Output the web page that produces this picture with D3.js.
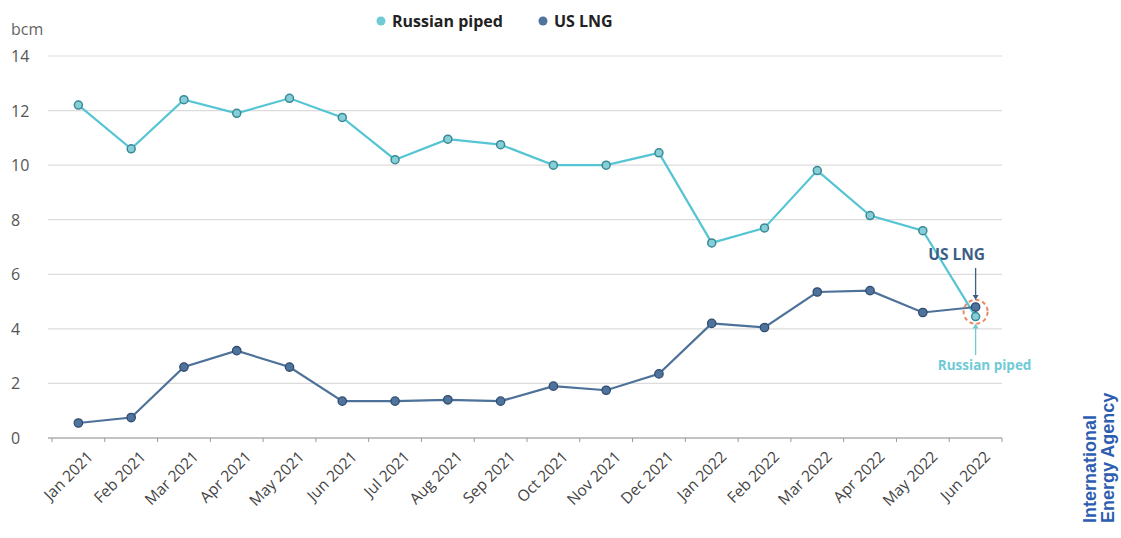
<!DOCTYPE html>
<html>
<head>
<meta charset="utf-8">
<script src="https://cdn.jsdelivr.net/npm/d3@7/dist/d3.min.js"></script>
<style>
  body { margin: 0; background: #fff; }
  svg text { font-family: "Open Sans", "DejaVu Sans", sans-serif; }
</style>
</head>
<body>
<svg id="chart" width="1121" height="538"></svg>
<script>
// monthly imports, bcm
var months = ["Jan 2021","Feb 2021","Mar 2021","Apr 2021","May 2021","Jun 2021","Jul 2021","Aug 2021","Sep 2021","Oct 2021","Nov 2021","Dec 2021","Jan 2022","Feb 2022","Mar 2022","Apr 2022","May 2022","Jun 2022"];
var russianPiped = [12.2,10.6,12.4,11.9,12.45,11.75,10.2,10.95,10.75,10.0,10.0,10.45,7.15,7.7,9.8,8.15,7.6,4.45];
var usLng = [0.55,0.75,2.6,3.2,2.6,1.35,1.35,1.4,1.35,1.9,1.75,2.35,4.2,4.05,5.35,5.4,4.6,4.8];
var yTicks = [0,2,4,6,8,10,12,14];

var svg = d3.select("#chart");
// plot box (note: "top" clashes with window.top, so prefixed)
var pLeft = 52, pRight = 1002, pTop = 56, pBottom = 438;

var x = d3.scaleBand().domain(months).range([pLeft, pRight]);
var y = d3.scaleLinear().domain([0,14]).range([pBottom, pTop]);

// gridlines
svg.append("g")
  .selectAll("line")
  .data(yTicks.filter(function(d){ return d > 0; }))
  .enter().append("line")
  .attr("x1", pLeft - 4).attr("x2", pRight)
  .attr("y1", function(d){ return y(d); })
  .attr("y2", function(d){ return y(d); })
  .attr("stroke", "#dcdcdc").attr("stroke-width", 1.2);

// y labels
svg.append("g")
  .selectAll("text")
  .data(yTicks)
  .enter().append("text")
  .attr("x", 11)
  .attr("y", function(d){ return y(d) + 6; })
  .attr("fill", "#555")
  .attr("font-size", 16)
  .text(function(d){ return d; });

svg.append("text").attr("x", 11).attr("y", 35)
  .attr("fill", "#666").attr("font-size", 16).text("bcm");

// x axis
var xAxis = svg.append("g")
  .attr("transform", "translate(0," + pBottom + ")");
xAxis.append("line").attr("x1", pLeft - 4).attr("x2", pRight)
  .attr("stroke", "#888").attr("stroke-width", 1.2);
var edges = months.map(function(m){ return x(m); }).concat([pRight]);
xAxis.selectAll("line.tick").data(edges).enter().append("line")
  .attr("class", "tick")
  .attr("x1", function(d){ return d; }).attr("x2", function(d){ return d; })
  .attr("y1", 0).attr("y2", 4)
  .attr("stroke", "#999");
xAxis.selectAll("text").data(months).enter().append("text")
  .attr("transform", function(m){
    return "translate(" + (x(m) + x.bandwidth()/2 + 8) + ",12) rotate(-45)";
  })
  .attr("text-anchor", "end")
  .attr("dy", "0.7em")
  .attr("fill", "#444")
  .attr("font-size", 15.5)
  .text(function(m){ return m; });

function cx(i){ return x(months[i]) + x.bandwidth()/2; }

var line = d3.line()
  .x(function(d, i){ return cx(i); })
  .y(function(d){ return y(d); });

// russian piped
svg.append("path").datum(russianPiped)
  .attr("d", line).attr("fill", "none")
  .attr("stroke", "#55c5d4").attr("stroke-width", 2.2);
svg.append("g").selectAll("circle").data(russianPiped).enter().append("circle")
  .attr("cx", function(d, i){ return cx(i); })
  .attr("cy", function(d){ return y(d); })
  .attr("r", 4)
  .attr("fill", "#86cfd8").attr("stroke", "#3b8995").attr("stroke-width", 1.5);

// us lng
svg.append("path").datum(usLng)
  .attr("d", line).attr("fill", "none")
  .attr("stroke", "#4d7199").attr("stroke-width", 2.2);
svg.append("g").selectAll("circle").data(usLng).enter().append("circle")
  .attr("cx", function(d, i){ return cx(i); })
  .attr("cy", function(d){ return y(d); })
  .attr("r", 4.2)
  .attr("fill", "#4f739c").attr("stroke", "#2f4d70").attr("stroke-width", 1.3);

// highlight last month
var last = months.length - 1;
var hx = cx(last), hy = y((usLng[last] + russianPiped[last]) / 2);
svg.append("circle").attr("cx", hx).attr("cy", hy).attr("r", 12)
  .attr("fill", "none").attr("stroke", "#ea8a62").attr("stroke-width", 2)
  .attr("stroke-dasharray", "4,3");

var uy = y(usLng[last]), ry = y(russianPiped[last]);
svg.append("text").attr("x", hx - 19).attr("y", 260)
  .attr("text-anchor", "middle").attr("fill", "#3d5f86")
  .attr("font-weight", "bold").attr("font-size", 15.5).text("US LNG");
svg.append("line").attr("x1", hx).attr("x2", hx).attr("y1", 268).attr("y2", uy - 9)
  .attr("stroke", "#3d5f86").attr("stroke-width", 1.3);
svg.append("path")
  .attr("d", "M" + (hx-3) + "," + (uy - 12) + " L" + hx + "," + (uy - 7) + " L" + (hx+3) + "," + (uy - 12) + "Z")
  .attr("fill", "#3d5f86");

svg.append("line").attr("x1", hx).attr("x2", hx).attr("y1", ry + 9).attr("y2", 355)
  .attr("stroke", "#6fcad6").attr("stroke-width", 1.3);
svg.append("path")
  .attr("d", "M" + (hx-3) + "," + (ry + 12) + " L" + hx + "," + (ry + 7) + " L" + (hx+3) + "," + (ry + 12) + "Z")
  .attr("fill", "#6fcad6");
svg.append("text").attr("x", hx + 9).attr("y", 370)
  .attr("text-anchor", "middle").attr("fill", "#6fcad6")
  .attr("font-weight", "bold").attr("font-size", 13.5).text("Russian piped");

// legend
var legend = [
  {name: "Russian piped", color: "#6fcad6", x: 381},
  {name: "US LNG", color: "#4f739c", x: 543}
];
var lg = svg.append("g").selectAll("g").data(legend).enter().append("g")
  .attr("transform", function(d){ return "translate(" + d.x + ",21)"; });
lg.append("circle").attr("r", 4.5).attr("fill", function(d){ return d.color; });
lg.append("text").attr("x", 11).attr("y", 6)
  .attr("font-weight", "bold").attr("font-size", 16).attr("fill", "#222")
  .text(function(d){ return d.name; });

// source logo text
var logo = svg.append("text")
  .attr("transform", "translate(1096,523) rotate(-90)")
  .attr("fill", "#2d5db0").attr("font-weight", "bold").attr("font-size", 18)
  .style("font-family", "Liberation Sans, Arial, sans-serif");
logo.append("tspan").attr("x", 0).attr("dy", 0).text("International");
logo.append("tspan").attr("x", 0).attr("dy", 18).text("Energy Agency");
</script>
</body>
</html>
